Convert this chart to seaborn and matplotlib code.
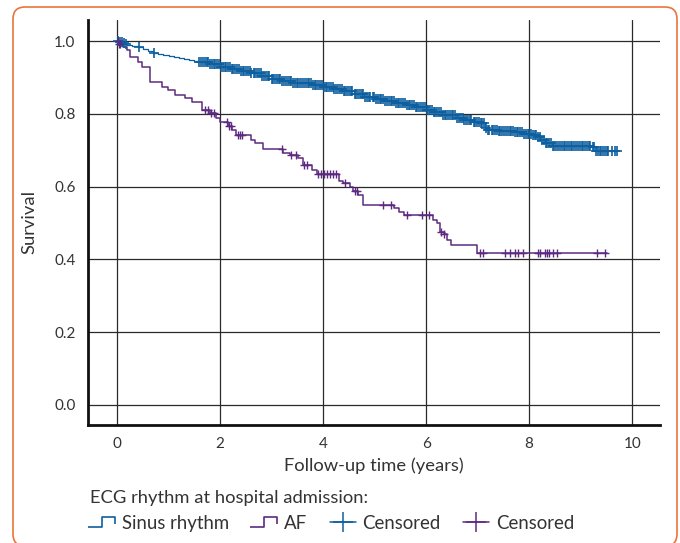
import numpy as np
import pandas as pd
import seaborn as sns
import matplotlib.pyplot as plt
from matplotlib.lines import Line2D
from matplotlib.path import Path
from matplotlib.patches import FancyBboxPatch
from matplotlib.transforms import IdentityTransform

# Kaplan-Meier steps (time in years, survival after the step)
sinus_t = [0.0, 0.05, 0.1, 0.15, 0.2, 0.3, 0.4, 0.5, 0.6, 0.7, 0.8, 0.9, 1.0,
           1.1, 1.2, 1.3, 1.4, 1.5, 1.6, 1.8, 2.0, 2.2, 2.4,
           2.6, 2.8, 3.0, 3.2, 3.4, 3.6, 3.8, 4.0, 4.2, 4.4, 4.6, 4.8, 5.0, 5.2,
           5.4, 5.6, 5.8, 6.0, 6.15, 6.3, 6.6, 6.72, 6.9, 7.05, 7.15, 7.2, 7.4,
           7.7, 7.9, 8.05, 8.15, 8.22, 8.3, 8.45, 8.8, 9.2, 9.3]
sinus_s = [1.0, 0.998, 0.995, 0.992, 0.989, 0.986, 0.983, 0.978, 0.972, 0.967,
           0.964, 0.961, 0.958, 0.956, 0.953, 0.951, 0.948, 0.945, 0.942,
           0.936, 0.929, 0.924, 0.918, 0.911, 0.903, 0.895, 0.889, 0.886, 0.884,
           0.879, 0.875, 0.869, 0.862, 0.854, 0.847, 0.840, 0.835, 0.829, 0.824,
           0.818, 0.811, 0.805, 0.798, 0.790, 0.783, 0.779, 0.775, 0.762, 0.755,
           0.753, 0.750, 0.745, 0.741, 0.736, 0.728, 0.720, 0.712, 0.711, 0.709,
           0.698]
sinus_end = 9.71

af_t = [0.0, 0.02, 0.12, 0.19, 0.25, 0.41, 0.49, 0.64, 0.87, 0.99, 1.13, 1.32,
        1.46, 1.65, 1.81, 1.92, 2.0, 2.16, 2.23, 2.31, 2.6, 2.68, 2.83, 3.22,
        3.36, 3.51, 3.61, 3.79, 3.88, 4.31, 4.39, 4.52, 4.58, 4.68, 4.78, 5.38,
        5.48, 5.57, 6.14, 6.21, 6.27, 6.35, 6.41, 6.49, 6.99]
af_s = [1.0, 0.992, 0.984, 0.975, 0.956, 0.942, 0.929, 0.887, 0.874, 0.865,
        0.852, 0.843, 0.832, 0.810, 0.802, 0.788, 0.777, 0.766, 0.755, 0.742,
        0.728, 0.720, 0.703, 0.692, 0.687, 0.679, 0.659, 0.646, 0.635, 0.615,
        0.610, 0.599, 0.588, 0.577, 0.549, 0.541, 0.530, 0.522, 0.508, 0.500,
        0.475, 0.470, 0.453, 0.440, 0.418]
af_end = 9.51

# censoring times (the sinus group is censored almost continuously after 1.6 y)
sinus_cens = [0.02, 0.05, 0.09, 0.13, 0.17, 0.42, 0.72,
              1.60, 1.63, 1.67, 1.70, 1.74, 1.77, 1.81, 1.84, 1.88, 1.91, 1.95, 1.98,
              2.02, 2.05, 2.09, 2.12, 2.16, 2.19, 2.23, 2.26, 2.30, 2.33, 2.37,
              2.40, 2.44, 2.47, 2.51, 2.54, 2.58, 2.61, 2.65, 2.68, 2.72, 2.75,
              2.79, 2.82, 2.86, 2.89, 2.93, 2.96,
              3.00, 3.03, 3.07, 3.10, 3.14, 3.17, 3.21, 3.24, 3.28, 3.31, 3.35,
              3.38, 3.42, 3.45, 3.49, 3.52, 3.56, 3.59, 3.63, 3.66, 3.70, 3.73,
              3.77, 3.80, 3.84, 3.87, 3.91, 3.94, 3.98,
              4.01, 4.05, 4.08, 4.12, 4.15, 4.19, 4.22, 4.26, 4.29, 4.33, 4.36,
              4.40, 4.43, 4.47, 4.50, 4.54, 4.57, 4.61, 4.64, 4.68, 4.71, 4.75,
              4.78, 4.82, 4.85, 4.89, 4.92, 4.96, 4.99,
              5.03, 5.06, 5.10, 5.13, 5.17, 5.20, 5.24, 5.27, 5.31, 5.34, 5.38,
              5.41, 5.45, 5.48, 5.52, 5.55, 5.59, 5.62, 5.66, 5.69, 5.73, 5.76,
              5.80, 5.83, 5.87, 5.90, 5.94, 5.97,
              6.01, 6.04, 6.08, 6.11, 6.15, 6.18, 6.22, 6.25, 6.29, 6.32, 6.36,
              6.39, 6.43, 6.46, 6.50, 6.53, 6.57, 6.60, 6.64, 6.67, 6.71, 6.74,
              6.78, 6.81, 6.85, 6.88, 6.92, 6.95, 6.99,
              7.02, 7.06, 7.09, 7.13, 7.16, 7.20, 7.23, 7.27, 7.30, 7.34, 7.37,
              7.41, 7.44, 7.48, 7.51, 7.55, 7.58, 7.62, 7.65, 7.69, 7.72, 7.76,
              7.79, 7.83, 7.86, 7.90, 7.93, 7.97,
              8.00, 8.04, 8.07, 8.11, 8.14, 8.18, 8.21, 8.25, 8.28, 8.32, 8.35,
              8.39, 8.42, 8.46, 8.49, 8.53, 8.56, 8.60, 8.63, 8.67, 8.70, 8.74,
              8.77, 8.81, 8.84, 8.88, 8.91, 8.95, 8.98,
              9.02, 9.05, 9.09, 9.12, 9.16, 9.19, 9.23, 9.26, 9.30, 9.33, 9.37,
              9.40, 9.44, 9.47, 9.51, 9.54, 9.60, 9.66, 9.71]
af_cens = [0.01, 0.03, 0.05, 1.71, 1.77, 1.83, 1.88, 2.14, 2.17, 2.21, 2.35,
           2.39, 2.43, 3.20, 3.38, 3.48, 3.63, 3.69, 3.90, 3.96, 4.02, 4.08,
           4.13, 4.19, 4.25, 4.43, 4.62, 4.66, 5.17, 5.32, 5.63, 5.92, 6.06,
           6.29, 6.35, 7.05, 7.11, 7.53, 7.63, 7.73, 7.79, 7.88, 8.17, 8.21,
           8.31, 8.35, 8.38, 8.46, 8.54, 9.32, 9.47]

x_ticks = [0, 2, 4, 6, 8, 10]
y_ticks = [0.0, 0.2, 0.4, 0.6, 0.8, 1.0]

blue = '#0d5f9f'
purple = '#5c2b7f'
ink = '#333333'


def step_frame(t, s, end):
    return pd.DataFrame({'time': list(t) + [end], 'surv': list(s) + [s[-1]]})


def cens_frame(ct, t, s):
    idx = np.searchsorted(t, ct, side='right') - 1
    return pd.DataFrame({'time': ct, 'surv': np.array(s)[idx]})


sns.set_theme(style='white')
plt.rcParams['font.family'] = ['Lato', 'DejaVu Sans']

fig = plt.figure(figsize=(6.8, 5.43), dpi=100)
ax = fig.add_axes([88 / 680, 1 - 425 / 543, 572 / 680, 405 / 543])

sns.lineplot(data=step_frame(sinus_t, sinus_s, sinus_end), x='time', y='surv',
             drawstyle='steps-post', color=blue, lw=0.9, estimator=None,
             sort=False, ax=ax)
sns.lineplot(data=step_frame(af_t, af_s, af_end), x='time', y='surv',
             drawstyle='steps-post', color=purple, lw=1.1, estimator=None,
             sort=False, ax=ax)
sns.scatterplot(data=cens_frame(sinus_cens, sinus_t, sinus_s), x='time', y='surv',
                marker='+', s=52, color=blue, linewidth=1.2, ax=ax, zorder=3)
sns.scatterplot(data=cens_frame(af_cens, af_t, af_s), x='time', y='surv',
                marker='+', s=40, color=purple, linewidth=1.0, ax=ax, zorder=3)

ax.set_xlim(-0.563, 10.54)
ax.set_ylim(-0.055, 1.058)
ax.set_xticks(x_ticks)
ax.set_yticks(y_ticks, labels=[f'{v:.1f}' for v in y_ticks])
ax.grid(True, color='#2a2a2a', lw=0.9)
ax.set_axisbelow(True)
for side in ['top', 'right']:
    ax.spines[side].set_visible(False)
for side in ['left', 'bottom']:
    ax.spines[side].set_color('#111111')
    ax.spines[side].set_linewidth(2)
ax.tick_params(length=0, labelsize=11, labelcolor=ink, pad=9)
ax.set_xlabel('Follow-up time (years)', fontsize=13.2, color=ink, labelpad=4)
ax.set_ylabel('Survival', fontsize=13.2, color=ink, labelpad=12)

step_path = Path([(-1, -0.35), (-0.1, -0.35), (-0.1, 0.35), (0.8, 0.35), (0.8, -0.15)],
                 [Path.MOVETO, Path.LINETO, Path.LINETO, Path.LINETO, Path.LINETO])
handles = [
    Line2D([], [], ls='none', marker=step_path, markersize=21, mfc='none',
           mec=blue, mew=1.2),
    Line2D([], [], ls='none', marker=step_path, markersize=21, mfc='none',
           mec=purple, mew=1.2),
    Line2D([], [], color=blue, lw=1.1, marker='+', markersize=14, mew=1.1),
    Line2D([], [], color=purple, lw=1.1, marker='+', markersize=14, mew=1.1),
]
labels = ['Sinus rhythm', 'AF', 'Censored', 'Censored']
leg = fig.legend(handles, labels, loc='upper left',
                 bbox_to_anchor=(73 / 680, 1 - 473 / 543), ncol=4, frameon=False,
                 title='ECG rhythm at hospital admission:', alignment='left',
                 fontsize=13.4, title_fontsize=13.2, handlelength=1.4,
                 handleheight=0.95, handletextpad=0.35, columnspacing=1.2,
                 labelcolor=ink)
leg.get_title().set_color(ink)

border = FancyBboxPatch((13, -3), 664, 539, boxstyle='round,pad=0,rounding_size=12',
                        transform=IdentityTransform(), ec='#e8763a', fc='none', lw=1.2)
fig.add_artist(border)

fig.savefig('out.png', dpi=100)
